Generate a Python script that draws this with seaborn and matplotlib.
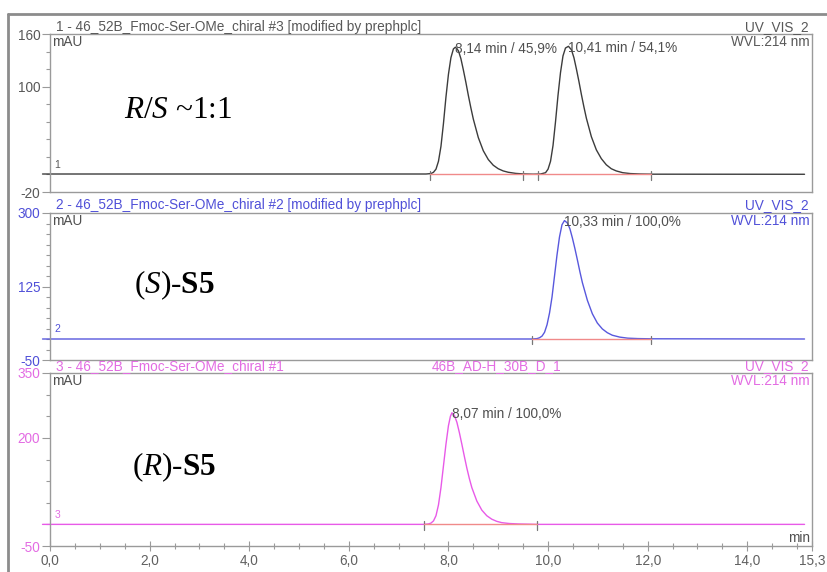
import matplotlib
matplotlib.use("Agg")
import matplotlib.pyplot as plt
import seaborn as sns
import pandas as pd
from matplotlib.lines import Line2D
from matplotlib.ticker import FixedLocator, MultipleLocator

# ── Data ──────────────────────────────────────────────────────────────────────
# trace 1: racemate
t1 = [-0.15, 7.55, 7.65, 7.7, 7.75, 7.8, 7.85, 7.9, 7.95, 8.0, 8.05, 8.1, 8.14,
      8.2, 8.25, 8.3, 8.35, 8.4, 8.45, 8.5, 8.6, 8.7, 8.8, 8.9, 9.0, 9.1, 9.2,
      9.35, 9.5, 9.7, 9.85, 9.95, 10.0, 10.05, 10.1, 10.15, 10.2, 10.25, 10.3,
      10.35, 10.41, 10.47, 10.52, 10.57, 10.62, 10.67, 10.72, 10.77, 10.87,
      10.97, 11.07, 11.17, 11.27, 11.37, 11.5, 11.65, 11.85, 12.1, 15.15]
y1 = [0.5, 0.5, 1, 2.5, 6, 15, 32, 58, 88, 114, 133, 143, 145,
      141, 132, 119, 105, 90, 76, 63, 42, 27, 17, 10.5, 6.5, 4, 2.5,
      1.2, 0.6, 0.3, 0.5, 2, 6, 15, 33, 60, 90, 116, 135,
      144, 146, 142, 133, 120, 106, 91, 77, 64, 43,
      28, 18, 11, 6.5, 4, 2, 1, 0.5, 0.3, 0.2]
marks1 = [7.63, 9.5, 9.8, 12.07]
peaks1 = [(8.14, 145, "8,14 min / 45,9%"), (10.41, 146, "10,41 min / 54,1%")]

# trace 2: (S)-S5
t2 = [-0.15, 9.68, 9.78, 9.83, 9.88, 9.93, 9.98, 10.03, 10.08, 10.13, 10.18,
      10.23, 10.28, 10.33, 10.39, 10.44, 10.49, 10.54, 10.59, 10.64, 10.69,
      10.79, 10.89, 10.99, 11.09, 11.19, 11.29, 11.44, 11.6, 11.8, 12.05, 15.15]
y2 = [0, 0, 1, 3, 7, 16, 34, 62, 100, 150, 200,
      243, 272, 282, 276, 262, 240, 215, 188, 160, 134,
      92, 60, 38, 24, 15, 9, 4.5, 2, 1, 0.5, 0]
marks2 = [9.68, 12.07]
peaks2 = [(10.33, 282, "10,33 min / 100,0%")]

# trace 3: (R)-S5
t3 = [-0.15, 7.5, 7.6, 7.65, 7.7, 7.75, 7.8, 7.85, 7.9, 7.95, 8.0, 8.04, 8.07,
      8.12, 8.17, 8.22, 8.27, 8.32, 8.37, 8.42, 8.47, 8.57, 8.67, 8.77, 8.87,
      8.97, 9.07, 9.22, 9.4, 9.6, 9.78, 15.15]
y3 = [0, 0, 1, 3, 8, 20, 45, 85, 135, 185, 228, 250, 258,
      252, 236, 212, 185, 157, 130, 106, 85, 54, 33, 20, 12,
      7, 4, 2, 1, 0.5, 0, 0]
marks3 = [7.5, 9.78]
peaks3 = [(8.07, 258, "8,07 min / 100,0%")]

ylims = [(-20, 160), (-50, 300), (-50, 350)]
ymid = [100, 125, 200]
yminor = [20, 25, 50]
titles = ["1 - 46_52B_Fmoc-Ser-OMe_chiral #3 [modified by prephplc]",
          "2 - 46_52B_Fmoc-Ser-OMe_chiral #2 [modified by prephplc]",
          "3 - 46_52B_Fmoc-Ser-OMe_chiral #1"]
big_labels = [r"$\mathit{R}$/$\mathit{S}$ ~1:1",
              r"($\mathit{S}$)-$\mathbf{S5}$",
              r"($\mathit{R}$)-$\mathbf{S5}$"]
x_ticks = [0, 2, 4, 6, 8, 10, 12, 14, 15.3]
x_labels = ["0,0", "2,0", "4,0", "6,0", "8,0", "10,0", "12,0", "14,0", "15,3"]

# ── Style ─────────────────────────────────────────────────────────────────────
sns.set_theme(style="white")
plt.rcParams["font.family"] = ["Liberation Sans", "DejaVu Sans"]
plt.rcParams["mathtext.fontset"] = "custom"
plt.rcParams["mathtext.rm"] = "Liberation Serif"
plt.rcParams["mathtext.it"] = "Liberation Serif:italic"
plt.rcParams["mathtext.bf"] = "Liberation Serif:bold"

W, H = 827, 572
fig = plt.figure(figsize=(W / 100, H / 100), dpi=100)
fig.patch.set_facecolor("white")


def fx(x):
    return x / W


def fy(y):
    return 1 - y / H


GRID = "#9a9a9a"
TXT = "#505050"
FS = 9.8
colors = ["#3c3c3c", "#5858dd", "#e85ae8"]
label_colors = ["#585858", "#5050d8", "#e36ce3"]
boxes = [(34, 192), (213, 360), (373, 546)]   # top/bottom in px
title_y = [27, 205, 366]
big_pos = [(124, 110), (134, 285), (132, 467)]
traces = [(t1, y1, marks1, peaks1), (t2, y2, marks2, peaks2), (t3, y3, marks3, peaks3)]

# outer window frame
fig.add_artist(Line2D([fx(8), fx(8)], [0, fy(14)], color="#8c8c8c", lw=2))
fig.add_artist(Line2D([fx(8), 1], [fy(14), fy(14)], color="#8c8c8c", lw=2))

for i, (t, y, marks, peaks) in enumerate(traces):
    top, bot = boxes[i]
    ax = fig.add_axes([fx(50), fy(bot), fx(812 - 50), (bot - top) / H])
    df = pd.DataFrame({"time": t, "mAU": y})
    sns.lineplot(data=df, x="time", y="mAU", ax=ax, color=colors[i], lw=1.0,
                 estimator=None, sort=False)
    for ln in ax.lines:
        ln.set_clip_on(False)

    lo, hi = ylims[i]
    h = 0.035 * (hi - lo)
    # integration baseline + peak delimiters
    ax.plot([marks[0], marks[-1]], [0, 0], color="#f08a8a", lw=1.0, zorder=3)
    for m in marks:
        ax.plot([m, m], [-h, h * 0.6], color="#777777", lw=0.9)
    for pt, ph, lab in peaks:
        ax.annotate(lab, (pt, ph), xytext=(0, -1), textcoords="offset points",
                    ha="left", va="center", fontsize=FS, color=TXT)

    ax.set_xlim(0, 15.3)
    ax.set_ylim(lo, hi)
    ax.set_xlabel("")
    ax.set_ylabel("")
    for sp in ax.spines.values():
        sp.set_color(GRID)
        sp.set_linewidth(1.0)
    ax.yaxis.set_major_locator(FixedLocator([lo, ymid[i], hi]))
    ax.yaxis.set_minor_locator(MultipleLocator(yminor[i]))
    ax.tick_params(axis="y", which="major", left=True, direction="out", length=6,
                   width=0.8, color=GRID, labelcolor=label_colors[i],
                   labelsize=FS, pad=1)
    ax.tick_params(axis="y", which="minor", left=True, direction="out", length=3,
                   width=0.8, color=GRID)
    ax.set_yticklabels([str(v) for v in [lo, ymid[i], hi]])

    if i < 2:
        ax.tick_params(axis="x", which="both", bottom=False, labelbottom=False)
    else:
        ax.xaxis.set_major_locator(FixedLocator(x_ticks))
        ax.xaxis.set_minor_locator(MultipleLocator(0.5))
        ax.set_xticklabels(x_labels)
        ax.tick_params(axis="x", which="major", bottom=True, direction="inout",
                       length=7, width=0.8, color=GRID, labelcolor="#606060",
                       labelsize=FS, pad=2)
        ax.tick_params(axis="x", which="minor", bottom=True, direction="inout",
                       length=4, width=0.8, color=GRID)

    # header texts
    fig.text(fx(56), fy(title_y[i]), titles[i], color=label_colors[i],
             fontsize=FS, va="center", ha="left")
    fig.text(fx(808), fy(title_y[i]), "UV_VIS_2", color=label_colors[i],
             fontsize=FS, va="center", ha="right")
    fig.text(fx(810), fy(top + 8), "WVL:214 nm", color=label_colors[i],
             fontsize=FS, va="center", ha="right")
    fig.text(fx(52), fy(top + 8), "mAU", color=TXT, fontsize=FS,
             va="center", ha="left")
    ax.annotate(str(i + 1), (0, 0), xytext=(3, 7), textcoords="offset points",
                ha="left", va="center", fontsize=7.5, color=label_colors[i])

    bx, by = big_pos[i]
    fig.text(fx(bx), fy(by), big_labels[i], fontsize=22.5, color="black",
             family="Liberation Serif", va="center", ha="left")

fig.text(fx(432), fy(366), "46B_AD-H_30B_D_1", color=label_colors[2],
         fontsize=FS, va="center", ha="left")
fig.text(fx(810), fy(538), "min", color=TXT, fontsize=FS, va="center", ha="right")

fig.savefig("out.png", dpi=100, facecolor="white")
